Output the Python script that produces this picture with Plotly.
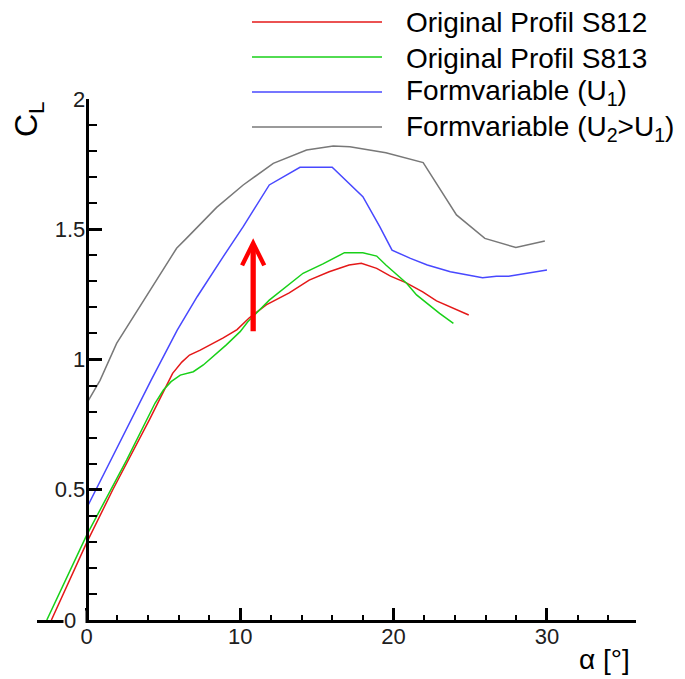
import plotly.graph_objects as go

# ---------------- data ----------------
alpha_s812 = [-2.3, 0.0, 1.7, 4.1, 5.2, 5.6, 6.2, 6.7, 7.4, 8.1, 8.9, 9.8, 10.6, 11.7,
              13.2, 14.5, 15.8, 17.1, 17.9, 18.9, 19.8, 20.8, 21.9, 22.8, 23.9, 24.9]
cl_s812 = [0.0, 0.297, 0.50, 0.77, 0.90, 0.947, 0.99, 1.017, 1.036, 1.058, 1.083, 1.115, 1.16, 1.21,
           1.256, 1.305, 1.337, 1.363, 1.369, 1.35, 1.32, 1.295, 1.26, 1.225, 1.196, 1.171]

alpha_s813 = [-2.6, 0.0, 2.6, 3.9, 4.45, 5.0, 5.5, 6.1, 6.95, 7.6, 8.25, 9.1, 10.0, 10.5, 11.9,
              13.25, 14.1, 15.4, 16.8, 18.0, 18.9, 19.5, 20.2, 20.85, 21.5, 22.15, 23.0, 23.9]
cl_s813 = [0.0, 0.326, 0.614, 0.77, 0.832, 0.883, 0.915, 0.94, 0.953, 0.979, 1.013, 1.056, 1.107, 1.145, 1.228,
           1.293, 1.331, 1.367, 1.41, 1.41, 1.397, 1.363, 1.327, 1.293, 1.248, 1.216, 1.177, 1.139]

alpha_u1 = [0.0, 2.0, 4.2, 5.9, 7.2, 8.9, 10.2, 11.9, 13.9, 16.0, 18.0, 19.1, 19.9, 21.1,
            22.2, 23.7, 25.0, 25.8, 26.7, 27.5, 30.0]
cl_u1 = [0.43, 0.665, 0.921, 1.113, 1.241, 1.395, 1.51, 1.67, 1.738, 1.738, 1.625, 1.51, 1.42, 1.388,
         1.363, 1.337, 1.324, 1.314, 1.32, 1.32, 1.344]

alpha_u2 = [0.0, 0.87, 1.95, 4.0, 5.86, 6.5, 8.47, 10.2, 12.16, 14.33, 16.07, 17.15, 19.5,
            21.93, 24.1, 25.95, 27.97, 29.86]
cl_u2 = [0.832, 0.92, 1.062, 1.254, 1.427, 1.465, 1.584, 1.67, 1.753, 1.804, 1.82, 1.817, 1.794,
         1.756, 1.555, 1.465, 1.43, 1.455]

series_names = ["Original Profil S812", "Original Profil S813",
                "Formvariable (U<sub>1</sub>)", "Formvariable (U<sub>2</sub>>U<sub>1</sub>)"]
series_colors = ["rgb(228,24,24)", "rgb(24,208,24)", "rgb(72,72,255)", "rgb(120,120,120)"]

arrow_alpha = 10.85
arrow_cl_from = 1.103
arrow_cl_to = 1.465

x_ticks = [0, 10, 20, 30]
x_minor = [2, 4, 6, 8, 12, 14, 16, 18, 22, 24, 26, 28, 32, 34]
y_ticks = [0, 0.5, 1, 1.5, 2]
y_ticktext = ["", "0.5", "1", "1.5", "2"]

# ---------------- layout geometry ----------------
W, H = 685, 679
L, R, T, B = 37, 49, 99, 59
PW, PH = W - L - R, H - T - B
X0_PX = 86.7          # pixel of alpha = 0
X_SCALE = 15.343      # px per degree
XMIN = -(X0_PX - L) / X_SCALE
XMAX = XMIN + PW / X_SCALE


def pxx(p):
    return (p - L) / PW


def pxy(p):
    return (H - B - p) / PH


FONT = "Liberation Sans, Arial, sans-serif"

fig = go.Figure()
for xs, ys, name, col in zip([alpha_s812, alpha_s813, alpha_u1, alpha_u2],
                             [cl_s812, cl_s813, cl_u1, cl_u2],
                             series_names, series_colors):
    fig.add_trace(go.Scatter(x=xs, y=ys, mode="lines", name=name,
                             line=dict(color=col, width=1.5), showlegend=False))

shapes = []
annotations = []

# manual legend (long line samples like the reference)
leg_rows = [22, 57, 92, 127]
for row, name, col in zip(leg_rows, series_names, series_colors):
    shapes.append(dict(type="line", xref="paper", yref="paper",
                       x0=pxx(252), x1=pxx(382), y0=pxy(row), y1=pxy(row),
                       line=dict(color=col, width=1.5)))
    annotations.append(dict(xref="paper", yref="paper", x=pxx(404), y=pxy(row + 1),
                            xanchor="left", yanchor="middle", showarrow=False,
                            text=name, font=dict(family=FONT, size=28, color="black")))

# red arrow
annotations.append(dict(xref="x", yref="y", axref="x", ayref="y",
                        x=arrow_alpha, y=arrow_cl_to, ax=arrow_alpha, ay=arrow_cl_from,
                        text="", showarrow=True, arrowhead=5, arrowsize=0.82,
                        arrowwidth=5.3, arrowcolor="rgb(255,0,0)", standoff=0, startstandoff=0))

# axis titles
annotations.append(dict(xref="paper", yref="paper", x=pxx(29), y=pxy(119),
                        xanchor="center", yanchor="middle", showarrow=False, textangle=-90,
                        text="C<sub>L</sub>", font=dict(family=FONT, size=32, color="black")))
annotations.append(dict(xref="paper", yref="paper", x=pxx(604), y=pxy(659),
                        xanchor="center", yanchor="middle", showarrow=False,
                        text="α [°]", font=dict(family=FONT, size=28, color="black")))

# y-axis "0" label that blanks the x-axis line like in the reference
annotations.append(dict(xref="paper", yref="paper", x=pxx(63), y=pxy(620),
                        xanchor="left", yanchor="middle", showarrow=False,
                        text="0", width=21, height=18, align="left", valign="middle",
                        bgcolor="white", borderpad=0,
                        font=dict(family=FONT, size=22, color="#202020")))

fig.update_layout(
    width=W, height=H,
    margin=dict(l=L, r=R, t=T, b=B, pad=0),
    paper_bgcolor="white", plot_bgcolor="white",
    showlegend=False,
    shapes=shapes, annotations=annotations,
    xaxis=dict(range=[XMIN, XMAX], showgrid=False, zeroline=False,
               showline=True, linecolor="black", linewidth=3,
               tickmode="array", tickvals=x_ticks,
               ticks="inside", ticklen=12, tickwidth=3, tickcolor="black",
               ticklabelstandoff=-5,
               minor=dict(tickmode="array", tickvals=x_minor, ticks="inside",
                          ticklen=5, tickwidth=2, tickcolor="black"),
               tickfont=dict(family=FONT, size=22, color="#202020")),
    yaxis=dict(range=[0, 2], showgrid=False, zeroline=False,
               anchor="free", position=(0 - XMIN) / (XMAX - XMIN), side="left",
               showline=True, linecolor="black", linewidth=3,
               tickmode="array", tickvals=y_ticks, ticktext=y_ticktext,
               ticks="inside", ticklen=13, tickwidth=3, tickcolor="black",
               ticklabelstandoff=-4,
               minor=dict(dtick=0.1, ticks="inside", ticklen=8, tickwidth=2, tickcolor="black"),
               tickfont=dict(family=FONT, size=22, color="#202020")),
)

fig.write_html("out.html", config={"displayModeBar": False},
               post_script="document.body.style.margin='0';document.body.style.overflow='hidden';")
